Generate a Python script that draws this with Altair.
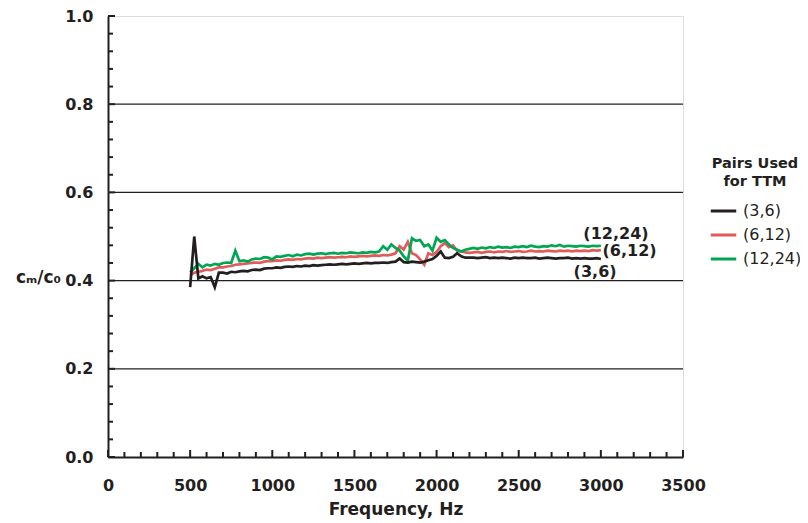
import altair as alt
import pandas as pd

# ---------------- data ----------------
freq = list(range(500, 3001, 25))

pair_3_6 = [
    0.385, 0.500, 0.405, 0.410, 0.405, 0.408, 0.385, 0.418, 0.418, 0.416,
    0.420, 0.419, 0.421, 0.422, 0.421, 0.424, 0.425, 0.424, 0.427, 0.428,
    0.428, 0.430, 0.429, 0.431, 0.432, 0.431, 0.433, 0.432, 0.434, 0.433,
    0.435, 0.434, 0.435, 0.436, 0.437, 0.436, 0.437, 0.438, 0.437, 0.438,
    0.439, 0.438, 0.439, 0.440, 0.439, 0.440, 0.440, 0.441, 0.440, 0.442,
    0.443, 0.450, 0.442, 0.441, 0.443, 0.442, 0.441, 0.443, 0.446, 0.449,
    0.456, 0.466, 0.452, 0.451, 0.454, 0.462, 0.455, 0.452, 0.452,
    0.452, 0.451, 0.452, 0.453, 0.451, 0.452, 0.451, 0.452, 0.451, 0.450,
    0.452, 0.451, 0.452, 0.451, 0.451, 0.452, 0.450, 0.451, 0.452, 0.451,
    0.450, 0.451, 0.451, 0.452, 0.450, 0.451, 0.450, 0.451, 0.450, 0.450,
    0.451, 0.449,
]

pair_6_12 = [
    0.412, 0.418, 0.420, 0.422, 0.425, 0.424, 0.427, 0.430, 0.430, 0.432,
    0.433, 0.436, 0.437, 0.438, 0.439, 0.440, 0.441, 0.440, 0.443, 0.444,
    0.444, 0.446, 0.445, 0.447, 0.448, 0.447, 0.449, 0.448, 0.450, 0.451,
    0.450, 0.452, 0.451, 0.452, 0.453, 0.452, 0.453, 0.454, 0.453, 0.455,
    0.454, 0.455, 0.456, 0.455, 0.456, 0.457, 0.456, 0.458, 0.457, 0.459,
    0.462, 0.478, 0.470, 0.488, 0.462, 0.458, 0.448, 0.436, 0.462, 0.458,
    0.465, 0.478, 0.485, 0.476, 0.480, 0.468, 0.466, 0.464, 0.463,
    0.464, 0.465, 0.463, 0.465, 0.466, 0.464, 0.466, 0.465, 0.467, 0.465,
    0.466, 0.467, 0.465, 0.466, 0.468, 0.466, 0.467, 0.466, 0.468, 0.467,
    0.466, 0.468, 0.467, 0.468, 0.466, 0.468, 0.467, 0.468, 0.467, 0.469,
    0.468, 0.469,
]

pair_12_24 = [
    0.418, 0.428, 0.438, 0.430, 0.436, 0.434, 0.438, 0.436, 0.440, 0.441,
    0.440, 0.468, 0.444, 0.446, 0.443, 0.448, 0.450, 0.449, 0.453, 0.452,
    0.448, 0.455, 0.454, 0.456, 0.458, 0.455, 0.459, 0.457, 0.460, 0.461,
    0.459, 0.461, 0.462, 0.460, 0.462, 0.463, 0.461, 0.463, 0.462, 0.464,
    0.463, 0.462, 0.464, 0.463, 0.465, 0.464, 0.466, 0.478, 0.470, 0.482,
    0.474, 0.468, 0.455, 0.445, 0.496, 0.490, 0.492, 0.478, 0.482, 0.468,
    0.497, 0.488, 0.492, 0.482, 0.474, 0.470, 0.466, 0.470, 0.472,
    0.474, 0.472, 0.475, 0.473, 0.476, 0.474, 0.477, 0.475, 0.476, 0.474,
    0.477, 0.476, 0.478, 0.476, 0.479, 0.477, 0.476, 0.478, 0.477, 0.480,
    0.478, 0.481, 0.477, 0.479, 0.478, 0.477, 0.479, 0.478, 0.477, 0.479,
    0.478, 0.479,
]

pair_names = ["(3,6)", "(6,12)", "(12,24)"]
pair_colors = ["#231f20", "#e15b5b", "#00a651"]

note_labels = ["(12,24)", "(6,12)", "(3,6)"]
note_freq = [3092, 3175, 2965]
note_ratio = [0.505, 0.466, 0.419]

x_major = [0, 500, 1000, 1500, 2000, 2500, 3000, 3500]
x_minor = [v for v in range(0, 3501, 100) if v % 500 != 0]
y_major = [0.0, 0.2, 0.4, 0.6, 0.8, 1.0]
y_minor = [round(i * 0.04, 2) for i in range(26) if i % 5 != 0]
y_grid = [0.2, 0.4, 0.6, 0.8]

# ---------------- chart ----------------
rows = []
for name, vals in zip(pair_names, [pair_3_6, pair_6_12, pair_12_24]):
    for f, v in zip(freq, vals):
        rows.append({"freq": f, "ratio": v, "pair": name})
df = pd.DataFrame(rows)

W, H = 575, 441
FONT = "DejaVu Sans"
INK = "#231f20"

xscale = alt.Scale(domain=[0, 3500], nice=False, zero=False)
yscale = alt.Scale(domain=[0, 1], nice=False)
cscale = alt.Scale(domain=pair_names, range=pair_colors)

legend = alt.Legend(
    title=["Pairs Used", "for TTM"], orient="none", legendX=601, legendY=141,
    titleFont=FONT, titleFontSize=14.5, titleFontWeight="bold", titleColor=INK,
    titleAlign="center", titleAnchor="middle", titleLineHeight=18, titlePadding=7,
    labelFont=FONT, labelFontSize=16, labelFontWeight="normal", labelColor=INK,
    symbolType="stroke", symbolSize=650, symbolStrokeWidth=3, labelOffset=5,
    rowPadding=1, padding=0,
)

xaxis = alt.Axis(
    values=x_major, format="d", labelFont=FONT, labelFontSize=16, labelFontWeight="bold",
    labelColor=INK, ticks=False, domainColor=INK, domainWidth=2, labelPadding=20,
    labelFlush=False, grid=False, title="Frequency, Hz", titleFont=FONT, titleFontSize=17,
    titleFontWeight="bold", titleColor=INK, titleY=57, titleBaseline="alphabetic",
)
yaxis = alt.Axis(
    values=y_major, format=".1f", labelFont=FONT, labelFontSize=16, labelFontWeight="bold",
    labelColor=INK, ticks=False, domainColor=INK, domainWidth=2, labelPadding=15,
    labelFlush=False, grid=False, title="cₘ/c₀", titleFont=FONT, titleFontSize=17,
    titleFontWeight="bold", titleColor=INK, titleAngle=0, titleX=-70, titleY=266,
    titleAlign="center", titleBaseline="alphabetic",
)


def X(field):
    return alt.X(field, scale=xscale, axis=xaxis)


def Y(field):
    return alt.Y(field, scale=yscale, axis=yaxis)


grid = alt.Chart(pd.DataFrame({"g": y_grid})).mark_rule(color=INK, strokeWidth=1.3).encode(
    y=Y("g:Q")
)


def line_layer(name):
    return alt.Chart(df).transform_filter(alt.datum.pair == name).mark_line(
        strokeWidth=2.7
    ).encode(
        x=X("freq:Q"),
        y=Y("ratio:Q"),
        color=alt.Color("pair:N", scale=cscale, legend=legend),
    )


xt_major = alt.Chart(pd.DataFrame({"t": x_major})).mark_rule(color=INK, strokeWidth=2).encode(
    x=X("t:Q"), y=alt.value(H), y2=alt.value(H - 7)
)
xt_minor = alt.Chart(pd.DataFrame({"t": x_minor})).mark_rule(color=INK, strokeWidth=2).encode(
    x=X("t:Q"), y=alt.value(H), y2=alt.value(H - 5)
)
yt_major = alt.Chart(pd.DataFrame({"t": y_major})).mark_rule(color=INK, strokeWidth=2).encode(
    y=Y("t:Q"), x=alt.value(0), x2=alt.value(7)
)
yt_minor = alt.Chart(pd.DataFrame({"t": y_minor})).mark_rule(color=INK, strokeWidth=2).encode(
    y=Y("t:Q"), x=alt.value(0), x2=alt.value(5)
)

notes = alt.Chart(pd.DataFrame({"lab": note_labels, "fx": note_freq, "ry": note_ratio})).mark_text(
    font=FONT, fontSize=16, fontWeight="bold", color=INK, align="center", baseline="middle"
).encode(
    x=X("fx:Q"),
    y=Y("ry:Q"),
    text="lab:N",
)

chart = alt.layer(
    grid,
    line_layer("(6,12)"),
    line_layer("(12,24)"),
    line_layer("(3,6)"),
    xt_major, xt_minor, yt_major, yt_minor,
    notes,
).properties(
    width=W, height=H,
    autosize=alt.AutoSizeParams(type="none"),
    padding={"left": 100, "top": 8, "right": 117, "bottom": 62},
).configure_view(
    stroke="#8c8c8c", strokeWidth=1
).configure(background="white")

chart.save("out.html", embed_options={"renderer": "svg", "actions": False})
